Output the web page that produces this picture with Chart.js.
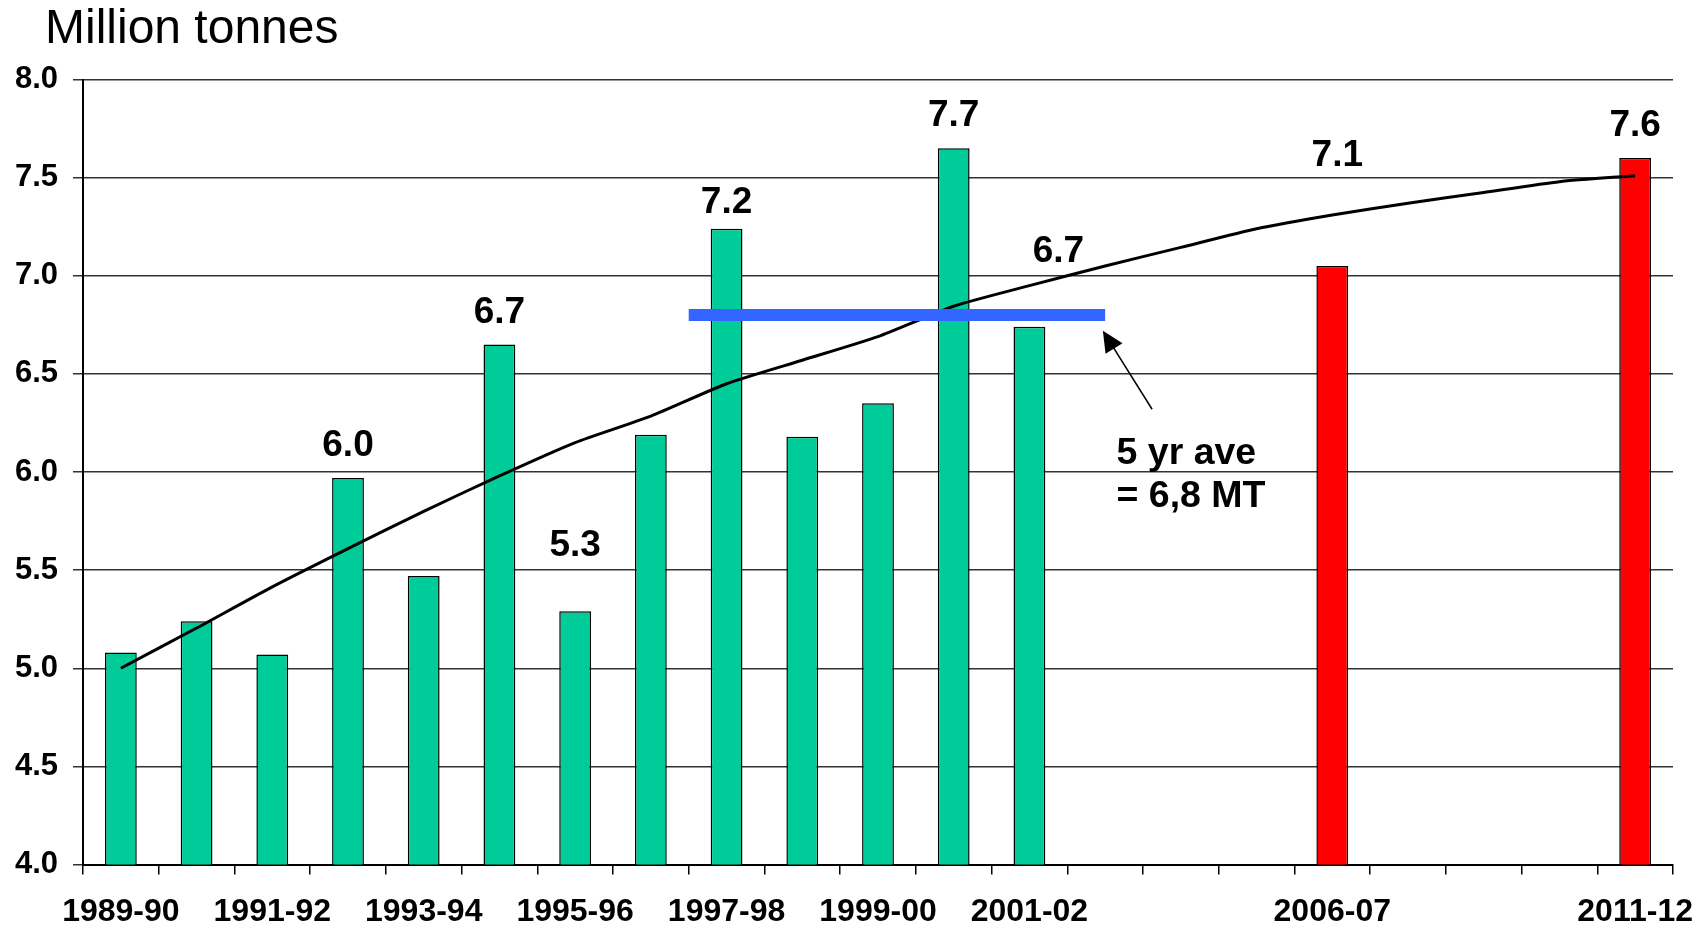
<!DOCTYPE html>
<html>
<head>
<meta charset="utf-8">
<title>Million tonnes</title>
<script src="https://cdn.jsdelivr.net/npm/chart.js@4.4.1/dist/chart.umd.min.js"></script>
<style>
  html, body { margin: 0; padding: 0; background: #fff; }
  #wrap { position: relative; width: 1707px; height: 930px; }
</style>
</head>
<body>
<div id="wrap"><canvas id="graphic-production"></canvas></div>
<script>
// seasons on the x axis (blank slots keep the spacing between 2001-02, 2006-07 and 2011-12)
const categories = ['1989-90', '1990-91', '1991-92', '1992-93', '1993-94', '1994-95', '1995-96',
  '1996-97', '1997-98', '1998-99', '1999-00', '2000-01', '2001-02', '', '', '', '2006-07', '', '', '', '2011-12'];
const shownTicks = ['1989-90', '1991-92', '1993-94', '1995-96', '1997-98', '1999-00', '2001-02', '2006-07', '2011-12'];

// million tonnes
const measured = [5.08, 5.24, 5.07, 5.97, 5.47, 6.65, 5.29, 6.19, 7.24, 6.18, 6.35, 7.65, 6.74,
  null, null, null, null, null, null, null, null];
const forecast = [null, null, null, null, null, null, null, null, null, null, null, null, null,
  null, null, null, 7.05, null, null, null, 7.60];
const trend = [5.00, 5.205, 5.415, 5.61, 5.80, 5.98, 6.15, 6.285, 6.45, 6.57, 6.69, 6.845, 6.95,
  7.05, 7.145, 7.24, 7.31, 7.37, 7.425, 7.48, 7.51];
const barLabels = ['', '', '', '6.0', '', '6.7', '5.3', '', '7.2', '', '', '7.7', '6.7',
  '', '', '', '7.1', '', '', '', '7.6'];

// 5 year average, spanning 1997-98 .. 2001-02 (in category index units)
const fiveYearAve = 6.8;
const aveFrom = 7.5;
const aveTo = 13;
const noteLines = ['5 yr ave', '= 6,8 MT'];

const yMin = 4.0, yMax = 8.0, yStep = 0.5;

const green = '#00CC99';
const red = '#FF0000';
const blue = '#3366FF';

Chart.defaults.font.family = "'Liberation Sans', Arial, sans-serif";
Chart.defaults.color = '#000';

// label nudges (px above bar top / px sideways) where the original moved them off the line
const labelNudge = { 6: { dy: 55 }, 8: { dy: 16 }, 12: { dy: 65, dx: 29 }, 16: { dy: 100, dx: 5 } };

const barLabelPlugin = {
  id: 'barLabels',
  afterDatasetsDraw(chart) {
    const ctx = chart.ctx;
    ctx.save();
    ctx.font = "bold 37px 'Liberation Sans', Arial, sans-serif";
    ctx.fillStyle = '#000';
    ctx.textAlign = 'center';
    ctx.textBaseline = 'alphabetic';
    barLabels.forEach(function(text, i) {
      if (!text) return;
      const ds = measured[i] != null ? 0 : 1;
      const bar = chart.getDatasetMeta(ds).data[i];
      const n = labelNudge[i] || {};
      ctx.fillText(text, bar.x + (n.dx || 0), bar.y - (n.dy || 22));
    });
    ctx.restore();
  }
};

// the "5 yr ave" note with its arrow, anchored in data units
const note = { x: 13.15, y: 6.04, tail: { x: 13.62, y: 6.32 }, head: { x: 12.97, y: 6.72 } };

const notePlugin = {
  id: 'aveNote',
  afterLayout(chart) {
    // title sits further right than the y tick labels
    if (chart.titleBlock) chart.titleBlock.left = 45;
  },
  afterDatasetsDraw(chart) {
    const xs = chart.scales.x2, ys = chart.scales.y;
    const ctx = chart.ctx;
    const tx = xs.getPixelForValue(note.tail.x), ty = ys.getPixelForValue(note.tail.y);
    const hx = xs.getPixelForValue(note.head.x), hy = ys.getPixelForValue(note.head.y);
    const ang = Math.atan2(hy - ty, hx - tx);
    const len = 21, half = 10;
    ctx.save();
    ctx.strokeStyle = '#000';
    ctx.fillStyle = '#000';
    ctx.lineWidth = 1.5;
    ctx.beginPath();
    ctx.moveTo(tx, ty);
    ctx.lineTo(hx - len * 0.6 * Math.cos(ang), hy - len * 0.6 * Math.sin(ang));
    ctx.stroke();
    ctx.beginPath();
    ctx.moveTo(hx, hy);
    ctx.lineTo(hx - len * Math.cos(ang) + half * Math.sin(ang), hy - len * Math.sin(ang) - half * Math.cos(ang));
    ctx.lineTo(hx - len * Math.cos(ang) - half * Math.sin(ang), hy - len * Math.sin(ang) + half * Math.cos(ang));
    ctx.closePath();
    ctx.fill();

    ctx.font = "bold 37.5px 'Liberation Sans', Arial, sans-serif";
    ctx.textAlign = 'left';
    ctx.textBaseline = 'alphabetic';
    const nx = xs.getPixelForValue(note.x), ny = ys.getPixelForValue(note.y);
    noteLines.forEach(function(line, k) {
      ctx.fillText(line, nx, ny + k * 43);
    });
    ctx.restore();
  }
};

new Chart(document.getElementById('graphic-production'), {
  type: 'bar',
  data: {
    labels: categories,
    datasets: [
      {
        label: 'Production',
        data: measured,
        backgroundColor: green,
        borderColor: '#000',
        borderWidth: 1.5,
        grouped: false,
        barPercentage: 0.42,
        categoryPercentage: 1.0,
        order: 3
      },
      {
        label: 'Projection',
        data: forecast,
        backgroundColor: red,
        borderColor: '#000',
        borderWidth: 1.5,
        grouped: false,
        barPercentage: 0.42,
        categoryPercentage: 1.0,
        order: 3
      },
      {
        type: 'line',
        label: 'Trend',
        data: trend,
        borderColor: '#000',
        borderWidth: 3,
        pointRadius: 0,
        tension: 0.2,
        fill: false,
        order: 2
      },
      {
        type: 'line',
        label: '5 yr ave',
        xAxisID: 'x2',
        data: [{ x: aveFrom, y: fiveYearAve }, { x: aveTo, y: fiveYearAve }],
        borderColor: blue,
        borderWidth: 12,
        borderCapStyle: 'butt',
        pointRadius: 0,
        fill: false,
        order: 1
      }
    ]
  },
  options: {
    responsive: true,
    maintainAspectRatio: false,
    animation: false,
    layout: { padding: { left: 8, right: 34, top: 0, bottom: 0 } },
    plugins: {
      legend: { display: false },
      tooltip: { enabled: false },
      title: {
        display: true,
        text: 'Million tonnes',
        align: 'start',
        color: '#000',
        font: { size: 48, weight: 'normal' },
        padding: { top: 1, bottom: 21 }
      }
    },
    scales: {
      x: {
        offset: true,
        grid: { display: true, offset: true, drawOnChartArea: false, drawTicks: true, tickLength: 10, color: '#000', lineWidth: 1.5 },
        border: { display: true, color: '#000', width: 2 },
        ticks: {
          autoSkip: false,
          maxRotation: 0,
          padding: 18,
          color: '#000',
          font: { size: 32, weight: 'bold' },
          callback: function(value) {
            const lab = this.getLabelForValue(value);
            return shownTicks.includes(lab) ? lab : '';
          }
        },
        afterFit: function(scale) {
          scale.height = 65.5;
          scale.paddingLeft = 0;
          scale.paddingRight = 0;
        }
      },
      // same span as the category axis, in plain index units, for the average bar and the note
      x2: {
        type: 'linear',
        position: 'bottom',
        offset: false,
        min: -0.5,
        max: categories.length - 0.5,
        grid: { display: false, offset: false },
        border: { display: false },
        ticks: { display: false },
        afterFit: function(scale) {
          scale.height = 0;
          scale.paddingLeft = 0;
          scale.paddingRight = 0;
        }
      },
      y: {
        min: yMin,
        max: yMax,
        grid: { color: '#333', lineWidth: 1.5, tickLength: 10 },
        border: { display: true, color: '#000', width: 2 },
        ticks: {
          stepSize: yStep,
          padding: 15,
          color: '#000',
          font: { size: 31, weight: 'bold' },
          callback: function(v) { return v.toFixed(1); }
        },
        afterFit: function(scale) { scale.width = 75; }
      }
    }
  },
  plugins: [barLabelPlugin, notePlugin]
});
</script>
</body>
</html>
